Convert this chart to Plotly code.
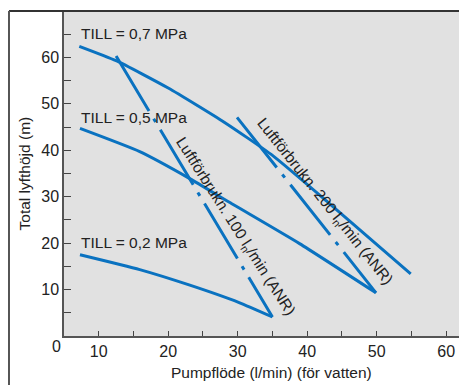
import plotly.graph_objects as go

# pump curves (x = l/min, y = m)
till07_x = [7.2, 12.5, 20.0, 28.0, 35.0, 43.0, 54.9]
till07_y = [62.4, 59.3, 53.4, 46.1, 38.9, 28.8, 13.4]
till05_x = [7.3, 15.9, 23.1, 28.8, 38.9, 49.9]
till05_y = [44.7, 39.7, 33.9, 28.8, 19.9, 9.3]
till02_x = [7.3, 15.9, 23.0, 30.2, 35.0]
till02_y = [17.5, 14.3, 11.0, 7.2, 4.1]

# air consumption lines
air100_x = [12.5, 35.0]
air100_y = [60.3, 4.1]
air200_x = [29.9, 49.9]
air200_y = [47.1, 9.3]

curve_labels = ["TILL = 0,7 MPa", "TILL = 0,5 MPa", "TILL = 0,2 MPa"]
label_y = [65.2, 47.1, 20.1]

xticks = [10, 20, 30, 40, 50, 60]
yticks = [10, 20, 30, 40, 50, 60]

BLUE = "#0a72c0"
FONT = "Liberation Sans, Arial, sans-serif"

fig = go.Figure()
for xs, ys in [(till07_x, till07_y), (till05_x, till05_y), (till02_x, till02_y)]:
    fig.add_scatter(x=xs, y=ys, mode="lines", line=dict(color=BLUE, width=3, shape="spline", smoothing=0.5),
                    showlegend=False, hoverinfo="skip")
for xs, ys in [(air100_x, air100_y), (air200_x, air200_y)]:
    fig.add_scatter(x=xs, y=ys, mode="lines", line=dict(color=BLUE, width=3, dash="64px,9px,4px,9px"),
                    showlegend=False, hoverinfo="skip")

for txt, yy in zip(curve_labels, label_y):
    fig.add_annotation(x=7.2, y=yy, text=txt, showarrow=False, xanchor="left", yanchor="middle",
                       font=dict(size=15.5))

fig.add_annotation(x=29.6, y=23.5, text="Luftförbrukn. 100 l<sub>n</sub>/min (ANR)", showarrow=False,
                   textangle=57.5, font=dict(size=15.5))
fig.add_annotation(x=42.5, y=29.0, text="Luftförbrukn. 200 l<sub>n</sub>/min (ANR)", showarrow=False,
                   textangle=51.5, font=dict(size=15.5))

# corner zero and axis titles
fig.add_annotation(xref="paper", yref="paper", x=-0.0174, y=-0.0338, text="0", showarrow=False,
                   xanchor="center", yanchor="middle", font=dict(size=16))
fig.add_annotation(xref="paper", yref="paper", x=-0.0968, y=0.5, text="Total lyfthöjd (m)", showarrow=False,
                   textangle=-90, xanchor="center", yanchor="middle", font=dict(size=15.5))
fig.add_annotation(xref="paper", yref="paper", x=0.516, y=-0.111, text="Pumpflöde (l/min) (för vatten)",
                   showarrow=False, xanchor="center", yanchor="middle", font=dict(size=15.5))

# outer frame (top and left)
fig.add_shape(type="line", xref="paper", yref="paper", x0=-0.1365, x1=1.01, y0=1, y1=1,
              line=dict(color="#333333", width=2))
fig.add_shape(type="line", xref="paper", yref="paper", x0=-0.1365, x1=-0.1365, y0=1, y1=-0.16,
              line=dict(color="#555555", width=2))

fig.update_xaxes(range=[5, 63], tickvals=xticks, ticks="inside", ticklen=5, tickcolor="#444",
                 tickfont=dict(size=16),
                 showline=True, linecolor="#555", linewidth=1.5, showgrid=False, zeroline=False,
                 minor=dict(tick0=0, dtick=5, ticks="inside", ticklen=5, tickcolor="#444"))
fig.update_yaxes(range=[0, 70], tickvals=yticks, ticks="inside", ticklen=7, tickcolor="#444",
                 tickfont=dict(size=16),
                 showline=True, linecolor="#555", linewidth=1.5, showgrid=False, zeroline=False,
                 minor=dict(tick0=0, dtick=5, ticks="inside", ticklen=7, tickcolor="#444"))

# page body has an 8px margin, so the figure is shrunk and shifted to land on the same pixels
fig.update_layout(width=459, height=377, margin=dict(l=56, r=0, t=3, b=49),
                  plot_bgcolor="#e1e1e1", paper_bgcolor="white",
                  font=dict(family=FONT, size=15, color="#222"))

fig.write_html("out.html")
